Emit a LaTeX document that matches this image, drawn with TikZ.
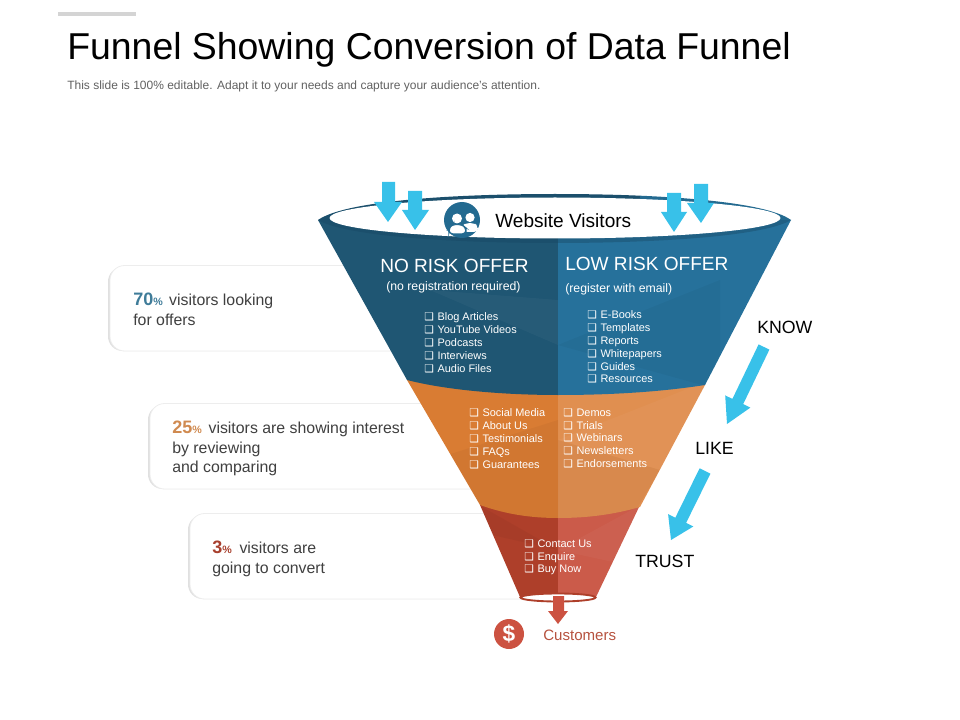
\documentclass[tikz,border=0pt]{standalone}
\usepackage{fontspec}
\setmainfont{Liberation Sans}
\newfontfamily\dvfont{DejaVu Sans}
\definecolor{blueL}{HTML}{1F5673}
\definecolor{blueR}{HTML}{26719B}
\definecolor{blueD}{HTML}{1B4F6C}
\definecolor{orangeL}{HTML}{D97C33}
\definecolor{orangeR}{HTML}{E08F50}
\definecolor{redL}{HTML}{AE3F2A}
\definecolor{redR}{HTML}{CB5B4A}
\definecolor{sky}{HTML}{38C1E9}
\definecolor{inkT}{HTML}{404040}
\definecolor{num1}{HTML}{3F7C99}
\definecolor{num2}{HTML}{D08A50}
\definecolor{num3}{HTML}{A8402E}
\definecolor{iconblue}{HTML}{236A90}
\definecolor{coral}{HTML}{CC5241}
\newcommand{\chk}{{\dvfont\fontsize{8}{9}\selectfont ❑}\hspace{2.8pt}}
\newcommand{\pct}[2]{{\color{#1}\bfseries\fontsize{13.5}{15}\selectfont #2{\fontsize{8}{10}\selectfont\%}}}
\tikzset{
  lbl/.style={inner sep=0pt,anchor=base west},
  listbox/.style={inner sep=0pt,anchor=north west,align=left,text=white,font=\fontsize{8.2}{9.72}\selectfont},
  cardtext/.style={inner sep=0pt,anchor=north west,align=left,text=inkT,font=\fontsize{11.9}{14.4}\selectfont},
  cardbox/.style={fill=white,draw=black!7,line width=.6pt,rounded corners=11pt},
  cardshade/.style={fill=black!12,rounded corners=11pt},
  skyarrow/.style={fill=sky,draw=none},
  facet/.style={fill=white,fill opacity=.035,draw=none},
  facetd/.style={fill=black,fill opacity=.035,draw=none}
}
\begin{document}
\begin{tikzpicture}[x=.75pt,y=-.75pt]
\useasboundingbox (0,0) rectangle (960,720);
\fill[black!17] (58,12.5) rectangle (136,16);
\node[lbl,font=\fontsize{28.05}{32}\selectfont] (title) at (67,60) {Funnel Showing Conversion of Data Funnel};
\node[lbl,text=black!62,font=\fontsize{9}{11}\selectfont] (sub) at (67,90) {This slide is 100\% editable. Adapt it to your needs and capture your audience's attention.};
% cards
\fill[cardshade] (108,267) rectangle (430,351);
\draw[cardbox] (110,265.5) rectangle (430,351);
\fill[cardshade] (148,405) rectangle (530,489);
\draw[cardbox] (150,403.5) rectangle (530,489);
\fill[cardshade] (188,515) rectangle (560,599);
\draw[cardbox] (190,513.5) rectangle (560,599);
\node[cardtext] (card1) at (133,293) {\pct{num1}{70} \hspace{1.5pt}visitors looking\\for offers};
\node[cardtext] (card2) at (172,421) {\pct{num2}{25} \hspace{1.8pt}visitors are showing interest\\by reviewing\\and comparing};
\node[cardtext] (card3) at (212,541) {\pct{num3}{3} \hspace{2.5pt}visitors are\\going to convert};
% funnel: red layer
\fill[redL] (480,505) -- (520,597) -- (558,600) -- (558,505) -- cycle;
\fill[redR] (558,505) -- (558,600) -- (596,597) -- (640,505) -- cycle;
\begin{scope}
\clip (480,505) -- (520,597) -- (596,597) -- (640,505) -- cycle;
\fill[facet] (558,550) -- (650,500) -- (650,570) -- cycle;
\fill[facetd] (558,550) -- (470,500) -- (470,530) -- cycle;
\end{scope}
% orange layer
\fill[orangeL] (407,380) -- (480,505) .. controls (505,514) and (530,518) .. (558,518) -- (558,370) -- (407,370) -- cycle;
\fill[orangeR] (558,370) -- (558,518) .. controls (590,518) and (615,514) .. (640,507) -- (705,385) -- (705,370) -- cycle;
\begin{scope}
\clip (407,380) -- (480,505) .. controls (505,514) and (530,518) .. (558,518) .. controls (590,518) and (615,514) .. (640,507) -- (705,385) -- (705,370) -- (407,370) -- cycle;
\fill[facetd] (400,470) -- (558,420) -- (558,530) -- (470,530) -- cycle;
\fill[facet] (558,440) -- (710,380) -- (710,400) -- (660,470) -- cycle;
\fill[facetd] (558,440) -- (660,470) -- (630,520) -- (558,520) -- cycle;
\end{scope}
% blue layer
\fill[blueL] (318,220) -- (407,380) .. controls (450,391) and (510,395) .. (558,395) -- (558,215) -- cycle;
\fill[blueR] (558,215) -- (558,395) .. controls (610,395) and (660,392) .. (705,385) -- (791,220) -- cycle;
\begin{scope}
\clip (318,220) -- (407,380) .. controls (450,391) and (510,395) .. (558,395) .. controls (610,395) and (660,392) .. (705,385) -- (791,220) -- cycle;
\fill[facet] (430,290) -- (558,345) -- (558,300) -- cycle;
\fill[facetd] (558,345) -- (720,280) -- (720,390) -- cycle;
\end{scope}
% rim: outer lens, split dark / lighter
\begin{scope}
\clip (318,220) .. controls (345,201) and (450,194) .. (555,194) .. controls (660,194) and (765,201) .. (791,220) .. controls (765,236) and (660,243) .. (555,243) .. controls (450,243) and (345,236) .. (318,220) -- cycle;
\fill[blueD] (310,190) rectangle (640,220);
\fill[iconblue] (640,190) rectangle (800,220);
\fill[blueD] (310,220) rectangle (558,250);
\fill[blueR!85!black] (558,220) rectangle (800,250);
\end{scope}
\fill[white] (555,218) ellipse [x radius=225.5,y radius=20.5];
\node[circle,fill=iconblue,minimum size=27pt,inner sep=0pt] (people) at (462,220) {};
\fill[white] (470,217.5) circle (4.6);
\fill[white,rounded corners=3pt] (462,232) -- (462,226) -- (466,223) -- (474,223) -- (478,226) -- (478,232) -- cycle;
\fill[iconblue] (457,218.5) circle (6.2);
\fill[white] (457,218.5) circle (5);
\fill[white,draw=iconblue,line width=.8pt,rounded corners=3pt] (449,234) -- (449,228) -- (452,224.5) -- (462,224.5) -- (466,228) -- (466,234) -- cycle;
\node[lbl,font=\fontsize{14.3}{16}\selectfont] (visitors) at (495,228) {Website Visitors};
% sky arrows
\fill[skyarrow] (382,182) -- (395,182) -- (395,202) -- (402,202) -- (388,222) -- (374,202) -- (382,202) -- cycle;
\fill[skyarrow] (408,191) -- (422,191) -- (422,210) -- (429,210) -- (415,230) -- (402,210) -- (408,210) -- cycle;
\fill[skyarrow] (667,193) -- (681,193) -- (681,212) -- (687,212) -- (674,232) -- (661,212) -- (667,212) -- cycle;
\fill[skyarrow] (694,184) -- (708,184) -- (708,203) -- (714,203) -- (701,223) -- (687,203) -- (694,203) -- cycle;
\fill[skyarrow] (769.4,349.6) -- (743.2,404.1) -- (750.4,407.6) -- (727,424) -- (725.2,395.4) -- (732.4,398.9) -- (758.6,344.4) -- cycle;
\fill[skyarrow] (710.4,473.7) -- (686.1,522.9) -- (693.3,526.5) -- (671,540) -- (668.1,514.1) -- (675.3,517.7) -- (699.6,468.3) -- cycle;
% funnel text
\node[lbl,text=white,font=\fontsize{14.3}{16}\selectfont] (norisk) at (380,273) {NO RISK OFFER};
\node[lbl,text=white,font=\fontsize{9.2}{11}\selectfont] (noreg) at (386,291) {(no registration required)};
\node[lbl,text=white,font=\fontsize{14.3}{16}\selectfont] (lowrisk) at (565,271) {LOW RISK OFFER};
\node[lbl,text=white,font=\fontsize{9.2}{11}\selectfont] (reg) at (565,292) {(register with email)};
\node[listbox] (l1) at (424,312) {\chk Blog Articles\\\chk YouTube Videos\\\chk Podcasts\\\chk Interviews\\\chk Audio Files};
\node[listbox] (l2) at (587,310) {\chk E-Books\\\chk Templates\\\chk Reports\\\chk Whitepapers\\\chk Guides\\\chk Resources};
\node[listbox] (l3) at (469,408) {\chk Social Media\\\chk About Us\\\chk Testimonials\\\chk FAQs\\\chk Guarantees};
\node[listbox] (l4) at (563,408) {\chk Demos\\\chk Trials\\\chk Webinars\\\chk Newsletters\\\chk Endorsements};
\node[listbox] (l5) at (524,539) {\chk Contact Us\\\chk Enquire\\\chk Buy Now};
% labels
\node[lbl,font=\fontsize{13.3}{15}\selectfont] (know) at (757,333) {KNOW};
\node[lbl,font=\fontsize{13.3}{15}\selectfont] (like) at (695,454) {LIKE};
\node[lbl,font=\fontsize{13.3}{15}\selectfont] (trust) at (635,567) {TRUST};
% outlet
\draw[fill=white,draw=redL,line width=1.4pt] (558,597.5) ellipse [x radius=37.5,y radius=4];
\fill[coral] (553,596) -- (564,596) -- (564,611) -- (568,611) -- (558,624) -- (548,611) -- (553,611) -- cycle;
\node[circle,fill=coral,minimum size=22.5pt,inner sep=0pt,text=white,font=\bfseries\fontsize{17}{19}\selectfont] (dollar) at (509,634) {\$};
\node[lbl,text=redL!90!white,font=\fontsize{11.3}{13}\selectfont] (customers) at (543,640) {Customers};
\end{tikzpicture}
\end{document}
